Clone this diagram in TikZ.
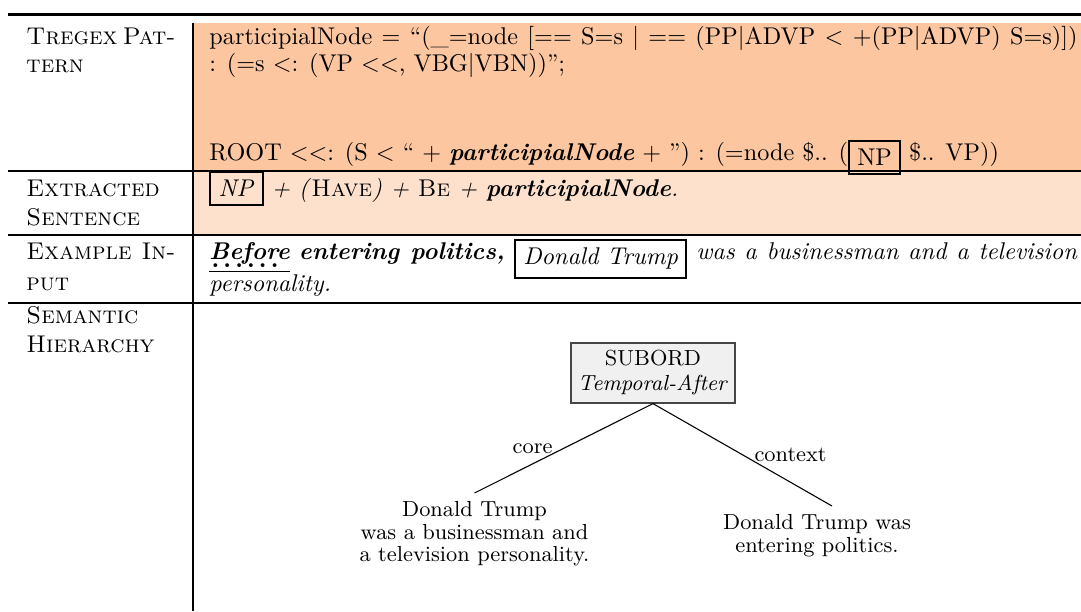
\documentclass[tikz,border=0pt]{standalone}
\usepackage{xcolor}
\newdimen\PX \PX=0.4131pt
\definecolor{rowA}{RGB}{252,198,161}
\definecolor{rowB}{RGB}{253,225,205}
\definecolor{subfill}{RGB}{240,240,240}
\definecolor{subdraw}{RGB}{70,70,70}
\newcommand\LT{\textless\kern0pt}
\newcommand\bi[1]{\textbf{\textit{#1}}}
\newcommand\lbox[1]{\raisebox{-2pt}{\fbox{#1}}}
\newsavebox\befbox
\newcommand\befword{\sbox\befbox{\bi{Before}}%
  \rlap{\rule[-5.1pt]{\wd\befbox}{0.45pt}}%
  \rlap{\raisebox{-3.1pt}{\hbox to \wd\befbox{\leaders\hbox to 4.9pt{\hss\textbf{.}\hss}\hfill}}}%
  \usebox\befbox}
\setlength\fboxsep{3pt}
\setlength\fboxrule{0.8pt}
\tikzset{
  txt/.style={anchor=base west, inner sep=0pt},
  hrule/.style={line width=#1},
  subbox/.style={draw=subdraw, fill=subfill, line width=0.5pt, align=center,
    minimum width=164\PX, minimum height=60\PX, inner sep=0pt,
    font=\fontsize{9pt}{10.3pt}\selectfont},
  leaf/.style={anchor=north, align=center, font=\fontsize{9pt}{9.3pt}\selectfont},
  edge/.style={line width=0.45pt},
  elbl/.style={inner sep=0pt, font=\fontsize{9pt}{10pt}\selectfont}
}
\begin{document}
\begin{tikzpicture}[x=\PX,y=-\PX]
\useasboundingbox (0,0) rectangle (1081,611);
% backgrounds
\fill[rowA] (193,23) rectangle (1081,170.7);
\fill[rowB] (193,170.7) rectangle (1081,235);
% rules
\draw[hrule=1.4pt] (8,14.5) -- (1081,14.5);
\draw[hrule=0.7pt] (8,170.7) -- (1081,170.7);
\draw[hrule=0.95pt] (8,235) -- (1081,235);
\draw[hrule=1.15pt] (8,303) -- (1081,303);
\draw[hrule=0.7pt] (193,23) -- (193,611);
% left column
\node[txt] (h1a) at (26,45) {\hbox to 149\PX{\scshape Tregex\hfill Pat-}};
\node[txt] (h1b) at (26,73) {\textsc{tern}};
\node[txt] (h2a) at (26,197) {\textsc{Extracted}};
\node[txt] (h2b) at (26,226) {\textsc{Sentence}};
\node[txt] (h3a) at (26,260) {\hbox to 149\PX{\scshape Example\hfill In-}};
\node[txt] (h3b) at (26,290) {\textsc{put}};
\node[txt] (h4a) at (26,323) {\textsc{Semantic}};
\node[txt] (h4b) at (26,352) {\textsc{Hierarchy}};
% row 1
\node[txt] (p1) at (209,44.5) {\makebox[868\PX][s]{participialNode = ``(\_=node [== S=s | == (PP|ADVP \LT{} +(PP|ADVP) S=s)])}};
\node[txt] (p2) at (209,72) {: (=s \LT: (VP \LT\LT, VBG|VBN))'';};
\node[txt] (p3) at (209,160.5) {ROOT \LT\LT: (S \LT{} `` + \bi{participialNode} + '') : (=node \$.. (\lbox{NP} \$.. VP))};
% row 2
\node[txt] (e1) at (209,196.5) {\fbox{\textit{NP}} \textit{+ (}\textsc{Have}\textit{) + }\textsc{Be}\textit{ + }\bi{participialNode}\textit{.}};
% row 3
\node[txt] (x1) at (209,260) {\makebox[868\PX][s]{\befword\ \bi{entering politics,} \lbox{\textit{Donald Trump}} \textit{was a businessman and a television}}};
\node[txt] (x2) at (209,291) {\textit{personality.}};
% row 4 tree
\node[subbox] (sub) at (653,373) {SUBORD\\\textit{Temporal-After}};
\node[leaf] (lleaf) at (474.5,493) {Donald Trump\\was a businessman and\\a television personality.};
\node[leaf] (rleaf) at (817,506) {Donald Trump was\\entering politics.};
\draw[edge] (sub.south) -- node[pos=0.56, anchor=base east, elbl] (lcore) {core} (lleaf.north);
\draw[edge] (sub.south) -- node[pos=0.564, anchor=base west, elbl] (lctx) {context} ([xshift=15\PX]rleaf.north);
\end{tikzpicture}
\end{document}
